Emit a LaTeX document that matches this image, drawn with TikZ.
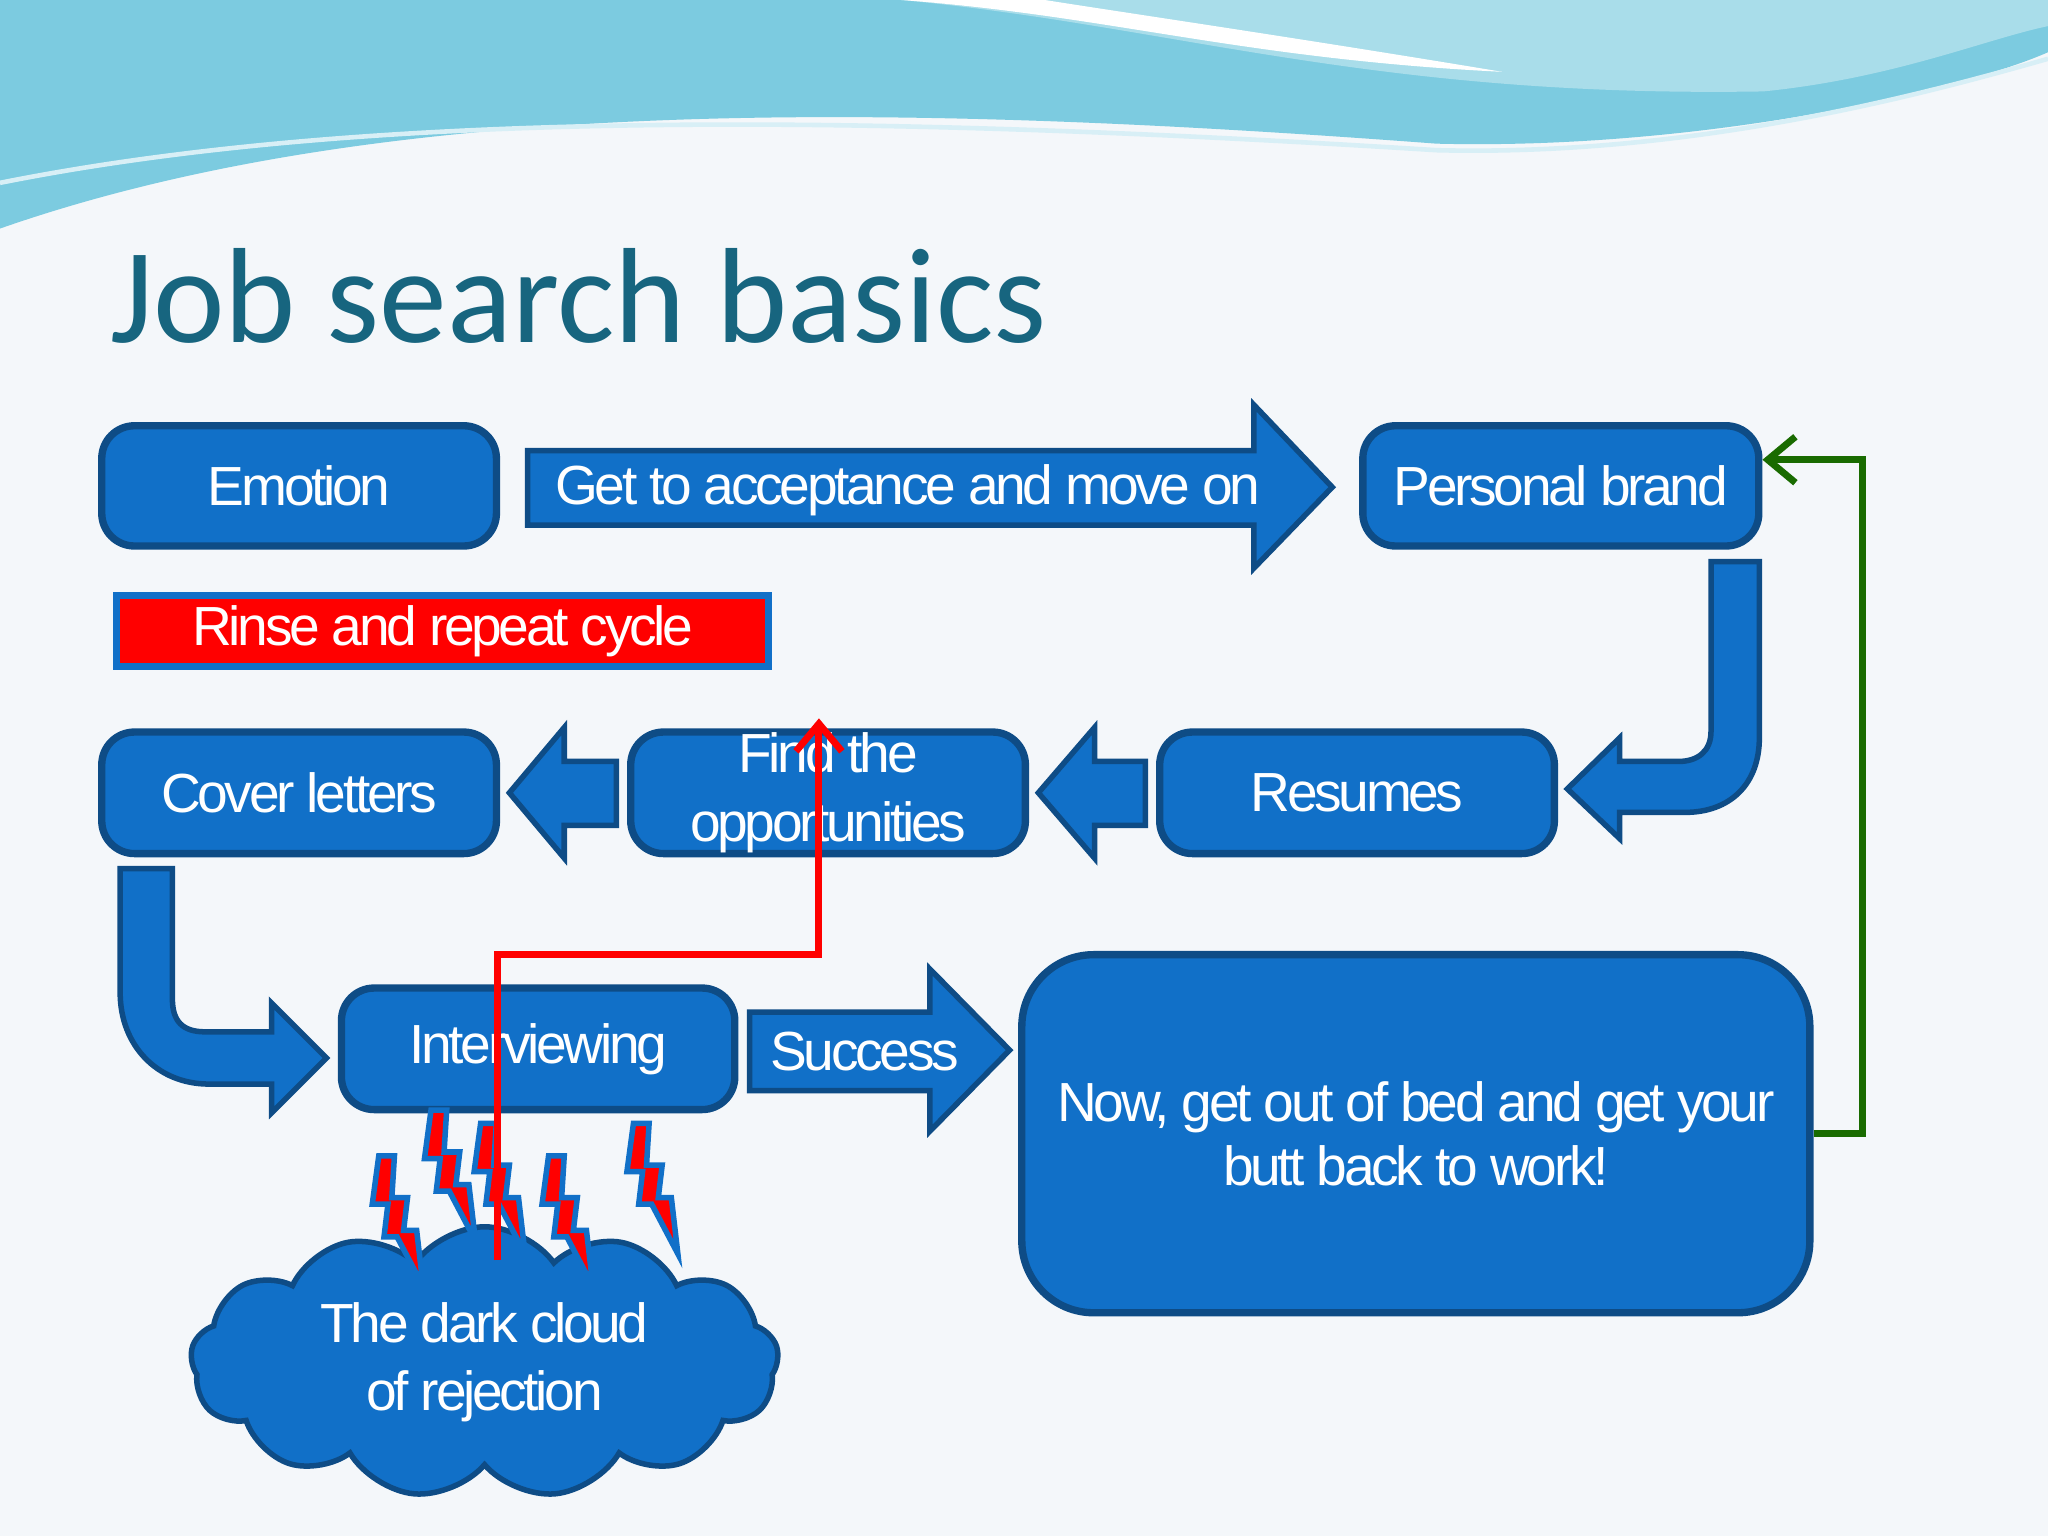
\documentclass[tikz,border=0pt]{standalone}
\usepackage{fontspec}
\setmainfont{Liberation Sans}
\newfontfamily\titlefont{Carlito}
\usetikzlibrary{shapes.symbols,arrows.meta}
\definecolor{boxblue}{HTML}{1170C8}
\definecolor{boxedge}{HTML}{0E4C86}
\definecolor{titlec}{HTML}{17657F}
\definecolor{bg}{HTML}{F4F7FA}
\definecolor{wave}{HTML}{7CCBE0}
\definecolor{wave2}{HTML}{A9DDEA}
\begin{document}
\begin{tikzpicture}[x=0.01cm,y=-0.01cm,
  box/.style={draw=boxedge,line width=1.6pt,fill=boxblue,rounded corners=0.25cm,text=white,font=\fontsize{12}{13}\selectfont\addfontfeatures{LetterSpace=-6},align=center,inner sep=0pt},
  arr/.style={draw=boxedge,line width=1.2pt,fill=boxblue},
  lbl/.style={text=white,font=\fontsize{12}{13}\selectfont\addfontfeatures{LetterSpace=-6},align=center},
  bolt/.style={draw=boxblue,line width=1.2pt,fill=red,line join=miter}]
\useasboundingbox (0,0) rectangle (1568,1176);
\fill[bg] (0,0) rectangle (1568,1176);
% top wave
\fill[wave] (0,0) -- (1568,0) -- (1568,40) .. controls (1500,70) and (1300,115) .. (1100,110) .. controls (700,80) and (300,70) .. (0,175) -- cycle;
\fill[wave2] (690,0) .. controls (900,20) and (1050,75) .. (1350,70) .. controls (1450,60) and (1520,30) .. (1568,20) -- (1568,0) -- cycle;
\fill[white] (690,0) .. controls (850,12) and (950,45) .. (1150,55) .. controls (1000,30) and (850,8) .. (800,0) -- cycle;
\draw[white!70!wave,line width=1pt] (0,140) .. controls (300,80) and (700,90) .. (1100,115) .. controls (1300,120) and (1480,70) .. (1568,45);
\node[anchor=base west,text=titlec,font=\titlefont\fontsize{29.5}{34}\selectfont] (title) at (72,262) {Job search basics};
% row 1
\node[box,minimum width=3.02cm,minimum height=0.92cm] (emo) at (229,372) {Emotion};
\draw[arr] (404,345) -- (960,345) -- (960,310) -- (1020,373) -- (960,435) -- (960,402) -- (404,402) -- cycle;
\node[lbl] (acc) at (695,375) {Get to acceptance and move on};
\node[box,minimum width=3.03cm,minimum height=0.92cm] (pb) at (1195,372) {Personal brand};
\node[draw=boxblue,line width=1.5pt,fill=red,text=white,minimum width=4.99cm,minimum height=0.54cm,inner sep=0pt,font=\fontsize{12}{13}\selectfont\addfontfeatures{LetterSpace=-6}] (rinse) at (339,483) {Rinse and repeat cycle};
% row 2
\node[box,minimum width=3.02cm,minimum height=0.93cm] (cov) at (229,607) {Cover letters};
\node[box,minimum width=3.02cm,minimum height=0.93cm] (find) at (634,607) {Find the\\[2pt]opportunities};
\node[box,minimum width=3.02cm,minimum height=0.93cm] (res) at (1039,607) {Resumes};
\draw[arr] (472,583) -- (432,583) -- (432,557) -- (390,607) -- (432,657) -- (432,632) -- (472,632) -- cycle;
\draw[arr] (877,583) -- (838,583) -- (838,557) -- (795,607) -- (838,657) -- (838,632) -- (877,632) -- cycle;
% bent arrows
\draw[arr] (1310,430) -- (1347,430) -- (1347,565) .. controls (1347,600) and (1325,622) .. (1290,622) -- (1240,622) -- (1240,642) -- (1200,604) -- (1240,565) -- (1240,583) -- (1285,583) .. controls (1300,583) and (1310,575) .. (1310,560) -- cycle;
\draw[arr] (92,665) -- (132,665) -- (132,765) .. controls (132,782) and (140,790) .. (157,790) -- (208,790) -- (208,768) -- (250,810) -- (208,852) -- (208,830) -- (160,830) .. controls (120,830) and (92,800) .. (92,760) -- cycle;
% row 3
\node[box,minimum width=3.01cm,minimum height=0.93cm] (int) at (412,803) {Interviewing};
\draw[arr] (574,775) -- (712,775) -- (712,742) -- (773,804) -- (712,866) -- (712,835) -- (574,835) -- cycle;
\node[lbl] (succ) at (662,805) {Success};
\node[box,rounded corners=0.55cm,minimum width=6.03cm,minimum height=2.74cm] (now) at (1084,868) {Now, get out of bed and get your\\[1pt]butt back to work!};
% cloud
\node[cloud,cloud puffs=13,cloud puff arc=110,aspect=2.4,draw=boxedge,line width=1.2pt,fill=boxblue,minimum width=4.5cm,minimum height=1.85cm,text=white,font=\fontsize{12}{13}\selectfont\addfontfeatures{LetterSpace=-6},align=center] (cloud) at (371,1043) {The dark cloud\\[2pt]of rejection};
% bolts
\foreach \bx/\by in {290/885,330/850,368/860,420/885,485/860}{
 \draw[bolt] (\bx,\by) -- ++(12,0) -- ++(-2,32) -- ++(12,0) -- ++(-3,25) -- ++(10,0) -- ++(5,43) -- ++(-20,-38) -- ++(-10,0) -- ++(3,-25) -- ++(-12,0) -- cycle;
}
% connectors
\coordinate (gr1) at (1426,868);
\coordinate (gr2) at (1426,352);
\draw[green!40!black!80!olive,line width=1.5pt,-{Straight Barb[length=6pt,width=10pt]}] (now.east |- gr1) -- (gr1) -- (gr2) -- (pb.east |- gr2);
\coordinate (rd0) at (381,965);
\coordinate (rd1) at (381,731);
\coordinate (rd2) at (627,731);
\coordinate (rd3) at (627,550);
\draw[red,line width=1.5pt,-{Straight Barb[length=6pt,width=10pt]}] (rd0) -- (rd1) -- (rd2) -- (rd3);
\end{tikzpicture}
\end{document}
